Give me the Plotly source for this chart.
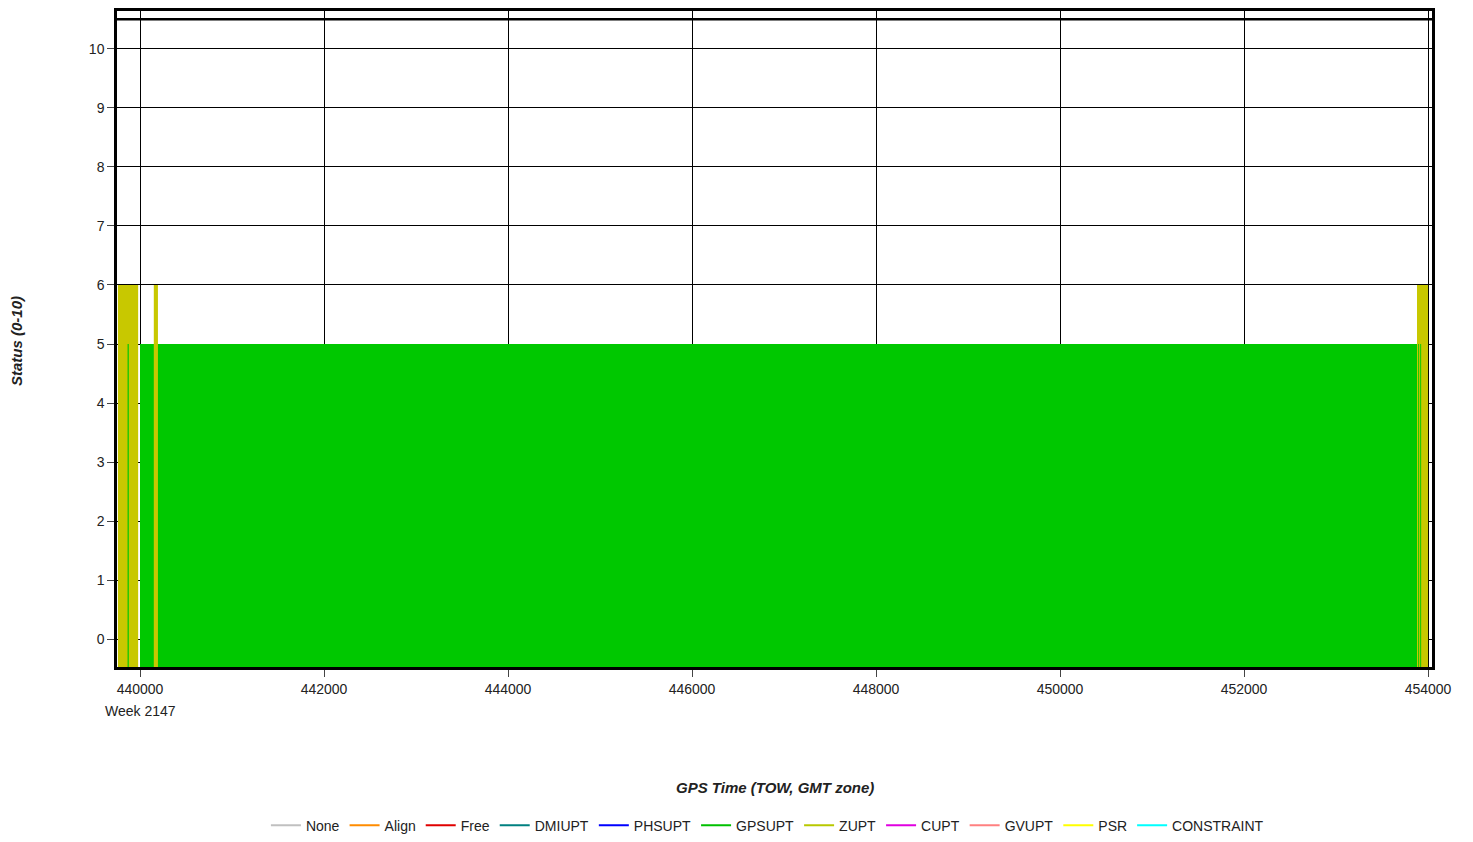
import plotly.graph_objects as go

# ---- data ----
modes = ["None", "Align", "Free", "DMIUPT", "PHSUPT", "GPSUPT", "ZUPT",
         "CUPT", "GVUPT", "PSR", "CONSTRAINT"]
mode_colors = ["#c0c0c0", "#ff8c00", "#e00000", "#008080", "#0000ff", "#00c000",
               "#b8c800", "#e000e0", "#ff8080", "#ffff00", "#00ffff"]

# status segments (drawn in this order): start TOW, end TOW, status value, mode
seg_start  = [439760, 439865, 440000, 440150, 453880, 453893, 453915]
seg_end    = [439980, 439878, 453880, 440195, 454000, 453903, 453925]
seg_status = [6,      5,      5,      6,      6,      5,      5]
seg_mode   = ["ZUPT", "GPSUPT", "GPSUPT", "ZUPT", "ZUPT", "GPSUPT", "GPSUPT"]

fill_colors = {"GPSUPT": "#00c800", "ZUPT": "#c8c800"}

x_ticks = [440000, 442000, 444000, 446000, 448000, 450000, 452000, 454000]
y_ticks = list(range(0, 11))
week_label = "Week 2147"
y_floor = -0.47

fig = go.Figure()

for x0, x1, v, m in zip(seg_start, seg_end, seg_status, seg_mode):
    fig.add_trace(go.Scatter(
        x=[x0, x0, x1, x1, x0], y=[y_floor, v, v, y_floor, y_floor],
        mode="lines", fill="toself", fillcolor=fill_colors[m],
        line=dict(width=0, color=fill_colors[m]), showlegend=False, hoverinfo="skip"))

for name, col in zip(modes, mode_colors):
    fig.add_trace(go.Scatter(x=[None], y=[None], mode="lines", name=name,
                             line=dict(color=col, width=2)))

axis_common = dict(showgrid=True, gridcolor="#000000", gridwidth=1,
                   showline=True, linecolor="#000000", linewidth=2.5, mirror=True,
                   ticks="outside", ticklen=7, tickcolor="#444",
                   tickfont=dict(family="Liberation Sans, Arial", size=14, color="#222"),
                   zeroline=False)

fig.update_xaxes(range=[439750, 454043], tickvals=x_ticks,
                 ticktext=[str(t) for t in x_ticks], **axis_common)
fig.update_yaxes(range=[-0.47, 10.64], tickvals=y_ticks, **axis_common)

# inner top border line at 10.5
fig.add_shape(type="line", xref="paper", yref="y", x0=0, x1=1, y0=10.5, y1=10.5,
              line=dict(color="#000000", width=2.5))

fig.add_annotation(x=440000, xref="x", y=-0.067, yref="paper", text=week_label,
                   showarrow=False, yanchor="middle", xanchor="center",
                   font=dict(family="Liberation Sans, Arial", size=14, color="#222"))
fig.add_annotation(x=0.5, xref="paper", y=-0.183, yref="paper",
                   text="<b><i>GPS Time (TOW, GMT zone)</i></b>",
                   showarrow=False, yanchor="middle",
                   font=dict(family="Liberation Sans, Arial", size=15, color="#222"))
fig.add_annotation(x=-0.076, xref="paper", y=0.497, yref="paper",
                   text="<b><i>Status (0-10)</i></b>", textangle=-90,
                   showarrow=False, xanchor="center", yanchor="middle",
                   font=dict(family="Liberation Sans, Arial", size=15, color="#222"))

fig.update_layout(
    width=1465, height=834,
    margin=dict(l=109, r=41, t=0, b=171),
    paper_bgcolor="white", plot_bgcolor="white",
    showlegend=True,
    legend=dict(orientation="h", x=0.4946, xanchor="center", y=-0.242, yanchor="middle",
                font=dict(family="Liberation Sans, Arial", size=14, color="#222"),
                itemwidth=30, tracegroupgap=0),
)

fig.write_html("out.html")
